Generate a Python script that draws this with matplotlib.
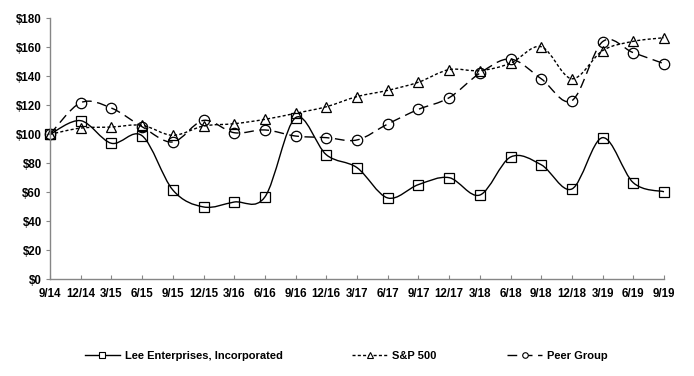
import matplotlib
matplotlib.use("Agg")
import matplotlib.pyplot as plt
from matplotlib.path import Path
from matplotlib.patches import PathPatch
from matplotlib.lines import Line2D
from matplotlib.ticker import FuncFormatter
import numpy as np

quarters = ["9/14", "12/14", "3/15", "6/15", "9/15", "12/15", "3/16", "6/16", "9/16", "12/16",
            "3/17", "6/17", "9/17", "12/17", "3/18", "6/18", "9/18", "12/18", "3/19", "6/19", "9/19"]
lee = [100, 109.4, 93.8, 99, 61.6, 49.9, 53.3, 56.8, 111.5, 85.9,
       77, 56.1, 65.3, 70.1, 58.1, 84.3, 79, 62.3, 97.7, 66.6, 60.4]
sp500 = [100, 104.3, 105, 106.2, 99.3, 105.7, 107.3, 110.3, 114.5, 119,
         126, 130.3, 135.9, 144.6, 143.9, 149, 160.4, 138.3, 157.7, 164.1, 166.6]
peer = [100, 121.8, 118.1, 105.2, 94.7, 109.6, 101.1, 103, 98.8, 97.7,
        96.1, 107.1, 117.2, 125.2, 142.1, 151.9, 138.3, 123.2, 163.9, 156.3, 148.7]

GREY = "#868686"


def smooth_path(x, y):
    # Excel-style smoothed line: cubic Bezier segments through the data points
    x = np.asarray(x, float)
    y = np.asarray(y, float)
    n = len(x)
    verts = [(x[0], y[0])]
    codes = [Path.MOVETO]
    for i in range(n - 1):
        p0 = np.array([x[max(i - 1, 0)], y[max(i - 1, 0)]])
        p1 = np.array([x[i], y[i]])
        p2 = np.array([x[i + 1], y[i + 1]])
        p3 = np.array([x[min(i + 2, n - 1)], y[min(i + 2, n - 1)]])
        c1 = p1 + (p2 - p0) / 6.0
        c2 = p2 - (p3 - p1) / 6.0
        verts += [tuple(c1), tuple(c2), tuple(p2)]
        codes += [Path.CURVE4] * 3
    return Path(verts, codes)


fig = plt.figure(figsize=(6.94, 3.76), dpi=100)
ax = fig.add_axes([50 / 694, 1 - 279.3 / 376, 614 / 694, 261 / 376])

xs = np.arange(len(quarters))
series = [
    ("Lee Enterprises, Incorporated", lee, "-", "s", 7),
    ("S&P 500", sp500, (0, (2.2, 1.6)), "^", 7.5),
    ("Peer Group", peer, (0, (7, 4)), "o", 7.5),
]

handles = []
for label, vals, ls, mk, ms in series:
    patch = PathPatch(smooth_path(xs, vals), facecolor="none", edgecolor="black",
                      linewidth=1.0, linestyle=ls, clip_on=False)
    ax.add_patch(patch)
    ax.plot(xs, vals, linestyle="none", marker=mk, markersize=ms, markerfacecolor="none",
            markeredgecolor="black", markeredgewidth=0.9, clip_on=False)
    handles.append(Line2D([], [], color="black", linewidth=1.0, linestyle=ls, marker=mk,
                          markersize=4, markerfacecolor="white", markeredgecolor="black",
                          markeredgewidth=0.8))

ax.set_xlim(0, len(quarters) - 1)
ax.set_ylim(0, 180)
ax.set_yticks(range(0, 181, 20))
ax.yaxis.set_major_formatter(FuncFormatter(lambda v, p: "$%d" % v))
ax.set_xticks(xs)
ax.set_xticklabels(quarters)

for s in ["top", "right"]:
    ax.spines[s].set_visible(False)
for s in ["left", "bottom"]:
    ax.spines[s].set_color(GREY)
    ax.spines[s].set_linewidth(1.0)

ax.tick_params(axis="y", direction="out", length=3, color=GREY, pad=3)
ax.tick_params(axis="x", direction="in", length=3, color=GREY, pad=6)
for t in ax.get_xticklabels() + ax.get_yticklabels():
    t.set_fontfamily(["Liberation Sans", "DejaVu Sans"])
    t.set_fontweight("bold")
    t.set_fontsize(8.3)

fig.legend(handles, [s[0] for s in series], loc="center", bbox_to_anchor=(346 / 694, 1 - 356 / 376),
           ncol=3, frameon=False, handlelength=3.2, handletextpad=0.4, columnspacing=6.3,
           prop={"family": ["Liberation Sans", "DejaVu Sans"], "weight": "bold", "size": 8})

fig.savefig("out.png", dpi=100)
